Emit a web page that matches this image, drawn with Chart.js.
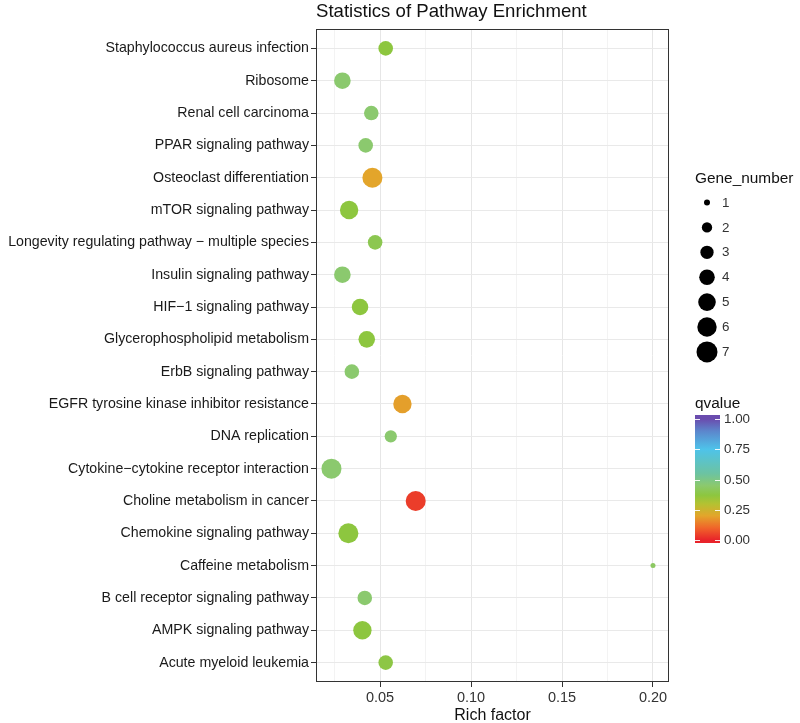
<!DOCTYPE html>
<html><head><meta charset="utf-8">
<script src="https://cdn.jsdelivr.net/npm/chart.js@4"></script>
<style>html,body{margin:0;padding:0;background:#fff}</style>
</head><body>
<canvas id="c" width="800" height="723"></canvas>
<script>
const pathways = [
  'Staphylococcus aureus infection',
  'Ribosome',
  'Renal cell carcinoma',
  'PPAR signaling pathway',
  'Osteoclast differentiation',
  'mTOR signaling pathway',
  'Longevity regulating pathway \u2212 multiple species',
  'Insulin signaling pathway',
  'HIF\u22121 signaling pathway',
  'Glycerophospholipid metabolism',
  'ErbB signaling pathway',
  'EGFR tyrosine kinase inhibitor resistance',
  'DNA replication',
  'Cytokine\u2212cytokine receptor interaction',
  'Choline metabolism in cancer',
  'Chemokine signaling pathway',
  'Caffeine metabolism',
  'B cell receptor signaling pathway',
  'AMPK signaling pathway',
  'Acute myeloid leukemia'
];
const richFactor = [0.0531,0.0293,0.0452,0.0421,0.0458,0.0330,0.0473,0.0293,0.0390,0.0427,
                    0.0345,0.0623,0.0559,0.0233,0.0696,0.0326,0.2000,0.0416,0.0403,0.0531];
const geneNumber = [4,5,4,4,7,6,4,5,5,5,4,6,3,7,7,7,1,4,6,4];
const qValue     = [0.37,0.45,0.45,0.45,0.20,0.37,0.40,0.45,0.37,0.37,
                    0.45,0.19,0.45,0.45,0.04,0.37,0.43,0.45,0.37,0.38];
const xMajorTicks = [0.05,0.10,0.15,0.20];
const xMinorTicks = [0.025,0.075,0.125,0.175];
const sizeBreaks = [1,2,3,4,5,6,7];
const qBreaks = [1.00,0.75,0.50,0.25,0.00];

const colorStops = [
  [0.00,'#E8232A'],[0.10,'#F0652A'],[0.20,'#E3A52B'],[0.30,'#B3C232'],[0.37,'#8DC63F'],
  [0.45,'#8BC96E'],[0.55,'#6CC3A2'],[0.75,'#4EC3EA'],[0.90,'#5C86CC'],[1.00,'#6A4CAE']
];
function hex2rgb(h){return [parseInt(h.slice(1,3),16),parseInt(h.slice(3,5),16),parseInt(h.slice(5,7),16)];}
function colorOf(q){
  for(let i=1;i<colorStops.length;i++){
    if(q<=colorStops[i][0]){
      const [a,ca]=colorStops[i-1],[b,cb]=colorStops[i];
      const t=(q-a)/(b-a),A=hex2rgb(ca),B=hex2rgb(cb);
      return 'rgb('+A.map((v,k)=>Math.round(v+(B[k]-v)*t)).join(',')+')';
    }
  }
  return colorStops[colorStops.length-1][1];
}
// area-proportional size scale: diameter 5px at 1 gene .. 20px at 7 genes
function radiusOf(n){
  const dMin=5,dMax=20,nMin=1,nMax=7;
  const area=dMin*dMin+(n-nMin)/(nMax-nMin)*(dMax*dMax-dMin*dMin);
  return Math.sqrt(area)/2;
}
const FONT="'Liberation Sans', Arial, Helvetica, sans-serif";
const isMajor=v=>Math.abs(v*20-Math.round(v*20))<1e-6;

const decor={
  id:'decor',
  afterDraw(chart){
    const c=chart.ctx,a=chart.chartArea;
    c.save();
    // panel border
    c.strokeStyle='#333';c.lineWidth=1;
    c.strokeRect(a.left+0.5,a.top+0.5,a.right-a.left-1,a.bottom-a.top-1);
    // title
    c.fillStyle='#111';c.textAlign='left';c.textBaseline='alphabetic';
    c.font='18.6px '+FONT;
    c.fillText('Statistics of Pathway Enrichment',a.left,17);
    // x title
    c.font='16px '+FONT;c.textAlign='center';
    c.fillText('Rich factor',(a.left+a.right)/2,720);
    // size legend
    c.textAlign='left';c.font='15.4px '+FONT;
    c.fillText('Gene_number',695,183);
    c.font='13.4px '+FONT;c.textBaseline='middle';
    sizeBreaks.forEach((n,i)=>{
      const y=202.5+i*24.9;
      c.fillStyle='#000';c.beginPath();c.arc(707,y,radiusOf(n)+0.5,0,Math.PI*2);c.fill();
      c.fillStyle='#333';c.fillText(String(n),722,y+0.5);
    });
    // colorbar
    c.fillStyle='#111';c.textBaseline='alphabetic';c.font='15.4px '+FONT;
    c.fillText('qvalue',695,408);
    const bx=695,bw=25,bTop=415,bBot=543,y1=419,y0=540;
    const g=c.createLinearGradient(0,y0,0,y1);
    colorStops.forEach(([s,col])=>g.addColorStop(s,col));
    c.fillStyle=g;c.fillRect(bx,bTop,bw,bBot-bTop);
    c.font='13.4px '+FONT;c.textBaseline='middle';
    qBreaks.forEach(q=>{
      const y=y0+(y1-y0)*q;
      c.strokeStyle='rgba(255,255,255,0.9)';c.lineWidth=1;
      c.beginPath();c.moveTo(bx,Math.round(y)+0.5);c.lineTo(bx+5,Math.round(y)+0.5);
      c.moveTo(bx+bw-5,Math.round(y)+0.5);c.lineTo(bx+bw,Math.round(y)+0.5);c.stroke();
      c.fillStyle='#333';c.fillText(q.toFixed(2),724,y+0.5);
    });
    c.restore();
  }
};

new Chart(document.getElementById('c'),{
  type:'bubble',
  data:{datasets:[{
    data:pathways.map((p,i)=>({x:richFactor[i],y:i,r:radiusOf(geneNumber[i])})),
    backgroundColor:qValue.map(colorOf),
    borderWidth:0,hoverRadius:0,hoverBorderWidth:0
  }]},
  options:{
    responsive:false,animation:false,devicePixelRatio:1,events:[],
    layout:{padding:{left:0,right:131,top:29,bottom:0}},
    plugins:{legend:{display:false},tooltip:{enabled:false},title:{display:false}},
    scales:{
      x:{
        type:'linear',min:0.0148,max:0.2088,
        afterBuildTicks:s=>{s.ticks=[...xMinorTicks,...xMajorTicks].sort((a,b)=>a-b).map(v=>({value:v}));},
        afterFit:s=>{s.height=41;},
        border:{display:false},
        grid:{
          color:ctx=>isMajor(ctx.tick.value)?'#e6e6e6':'#f3f3f3',
          lineWidth:1,tickLength:5,
          tickColor:ctx=>isMajor(ctx.tick.value)?'#333':'rgba(0,0,0,0)'
        },
        ticks:{
          autoSkip:false,maxRotation:0,padding:2,color:'#333',
          font:{family:FONT,size:14.5},
          callback:v=>isMajor(v)?v.toFixed(2):''
        }
      },
      y:{
        type:'linear',min:-0.6,max:19.6,reverse:true,
        afterBuildTicks:s=>{s.ticks=pathways.map((p,i)=>({value:i}));},
        afterFit:s=>{s.width=316;},
        border:{display:false},
        grid:{color:'#e9e9e9',lineWidth:1,tickLength:5,tickColor:'#333'},
        ticks:{
          autoSkip:false,padding:2,color:'#1a1a1a',
          font:{family:FONT,size:14.2},
          callback:v=>pathways[v]
        }
      }
    }
  },
  plugins:[decor]
});
</script>
</body></html>
